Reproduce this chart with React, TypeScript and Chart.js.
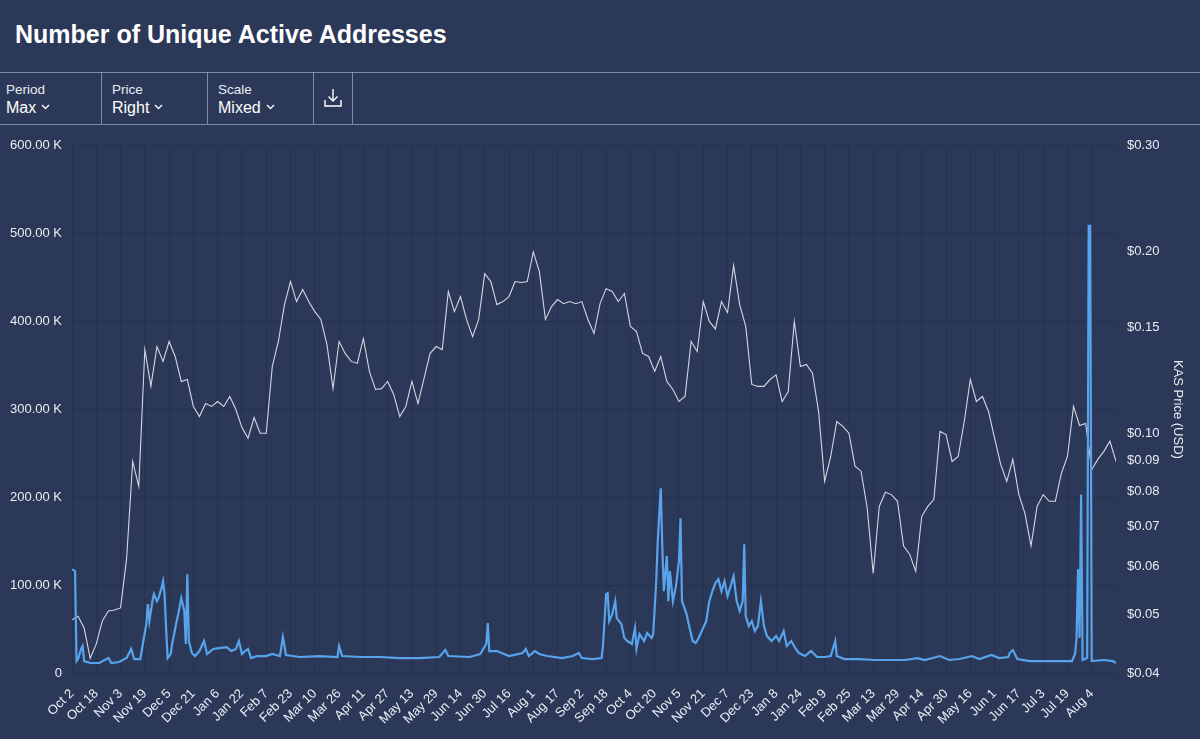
import React, { useEffect, useRef } from 'react';
import { Chart, registerables } from 'chart.js';

Chart.register(...registerables);

// ---- data ----
const xTickLabels = [
  'Oct 2', 'Oct 18', 'Nov 3', 'Nov 19', 'Dec 5', 'Dec 21', 'Jan 6', 'Jan 22', 'Feb 7', 'Feb 23',
  'Mar 10', 'Mar 26', 'Apr 11', 'Apr 27', 'May 13', 'May 29', 'Jun 14', 'Jun 30', 'Jul 16', 'Aug 1',
  'Aug 17', 'Sep 2', 'Sep 18', 'Oct 4', 'Oct 20', 'Nov 5', 'Nov 21', 'Dec 7', 'Dec 23', 'Jan 8',
  'Jan 24', 'Feb 9', 'Feb 25', 'Mar 13', 'Mar 29', 'Apr 14', 'Apr 30', 'May 16', 'Jun 1', 'Jun 17',
  'Jul 3', 'Jul 19', 'Aug 4',
];
const xTickStepDays = 16;
const totalDays = 688;

// KAS price (USD), one value every 4 days starting Oct 2
const priceStepDays = 4;
const priceUsd = [
  0.0490, 0.0497, 0.0475, 0.0423, 0.0447, 0.0488, 0.0507, 0.0509, 0.0513, 0.0620,
  0.0898, 0.0816, 0.1377, 0.1197, 0.1393, 0.1316, 0.1420, 0.1341, 0.1219, 0.1228,
  0.1108, 0.1066, 0.1120, 0.1108, 0.1129, 0.1108, 0.1151, 0.1095, 0.1022, 0.0981,
  0.1062, 0.1000, 0.1000, 0.1291, 0.1420, 0.1635, 0.1786, 0.1654, 0.1732, 0.1654,
  0.1592, 0.1545, 0.1404, 0.1186, 0.1420, 0.1357, 0.1316, 0.1306, 0.1436, 0.1267,
  0.1182, 0.1186, 0.1219, 0.1160, 0.1066, 0.1108, 0.1219, 0.1120, 0.1233, 0.1357,
  0.1393, 0.1377, 0.1719, 0.1592, 0.1686, 0.1545, 0.1447, 0.1545, 0.1841, 0.1786,
  0.1635, 0.1654, 0.1686, 0.1786, 0.1779, 0.1786, 0.2000, 0.1855, 0.1545, 0.1623,
  0.1667, 0.1641, 0.1654, 0.1641, 0.1654, 0.1545, 0.1464, 0.1641, 0.1738, 0.1719,
  0.1654, 0.1706, 0.1504, 0.1475, 0.1357, 0.1341, 0.1267, 0.1341, 0.1219, 0.1182,
  0.1129, 0.1151, 0.1420, 0.1367, 0.1654, 0.1533, 0.1490, 0.1654, 0.1586, 0.1900,
  0.1635, 0.1504, 0.1205, 0.1196, 0.1196, 0.1228, 0.1250, 0.1129, 0.1173, 0.1533,
  0.1291, 0.1301, 0.1258, 0.1087, 0.0832, 0.0915, 0.1046, 0.1027, 0.1000, 0.0882,
  0.0865, 0.0753, 0.0585, 0.0756, 0.0798, 0.0791, 0.0771, 0.0650, 0.0630, 0.0590,
  0.0728, 0.0756, 0.0777, 0.1007, 0.0995, 0.0898, 0.0915, 0.1046, 0.1228, 0.1129,
  0.1151, 0.1087, 0.0981, 0.0888, 0.0832, 0.0905, 0.0791, 0.0736, 0.0650, 0.0756,
  0.0791, 0.0771, 0.0771, 0.0858, 0.0915, 0.1108, 0.1030, 0.1038, 0.0870, 0.0905,
  0.0933, 0.0970, 0.0898,
];

// Unique active addresses: day offset from Oct 2 and count
const addrDays = [
  0, 2, 3, 4, 6, 7, 8, 12, 18, 24, 26, 31, 36, 39, 41, 45, 47, 49, 50, 51,
  53, 54, 56, 57, 59, 60, 61, 62, 63, 65, 66, 69, 70, 72, 74, 75, 76, 77, 79, 81,
  84, 87, 89, 93, 97, 102, 105, 108, 110, 112, 114, 116, 118, 122, 128, 132, 137, 139, 141, 150,
  163, 175, 176, 178, 190, 203, 216, 229, 242, 246, 248, 262, 269, 273, 274, 275, 280, 288, 297, 299,
  301, 305, 308, 313, 323, 330, 334, 336, 343, 349, 350, 352, 353, 354, 356, 358, 359, 362, 364, 366,
  369, 371, 372, 374, 377, 379, 382, 383, 384, 385, 386, 388, 389, 390, 392, 393, 394, 396, 398, 400,
  401, 402, 405, 407, 409, 411, 413, 415, 418, 420, 422, 424, 426, 428, 430, 432, 434, 436, 438, 440,
  442, 443, 444, 446, 448, 450, 452, 454, 456, 458, 461, 464, 466, 469, 471, 474, 477, 479, 483, 487,
  491, 496, 500, 503, 504, 509, 519, 529, 539, 549, 557, 562, 572, 578, 585, 593, 598, 606, 611, 617,
  618, 620, 623, 631, 641, 651, 659, 661, 662, 663, 664, 665, 666, 669, 670, 671, 672, 680, 686, 688,
];
const addrCounts = [
  118000, 115900, 13600, 15900, 27300, 30700, 13600, 11400, 11400, 17000, 11400, 12500, 17000, 27300, 15900, 15900, 36400, 55700, 78400, 59100,
  81800, 89800, 81800, 85200, 96600, 104500, 89800, 51100, 17000, 21600, 33000, 59100, 67000, 85200, 70500, 33000, 112500, 36400, 22700, 19300,
  25000, 36400, 21600, 27300, 28400, 29500, 25000, 27300, 36400, 21600, 25000, 27300, 17000, 19300, 19300, 21600, 19300, 40900, 20500, 18200,
  19300, 18200, 30700, 19300, 18200, 18200, 17000, 17000, 18200, 26100, 19300, 18200, 21600, 33000, 56800, 25000, 25000, 19300, 22700, 27300,
  19300, 25000, 21600, 19300, 17000, 19300, 22700, 17000, 15900, 17000, 33000, 89800, 90900, 59100, 67000, 81800, 62500, 55700, 39800, 36400,
  33000, 51100, 27300, 44300, 36400, 45500, 39800, 44300, 73900, 104500, 150000, 210200, 144300, 93200, 133000, 81800, 115900, 81800, 98900, 127300,
  176100, 81800, 67000, 51100, 36400, 34100, 39800, 47700, 59100, 81800, 93200, 102300, 106800, 93200, 104500, 87500, 98900, 110200, 81800, 70500,
  81800, 146600, 64800, 53400, 59100, 47700, 53400, 81800, 53400, 42000, 36400, 42000, 36400, 47700, 30700, 36400, 27300, 22700, 19300, 25000,
  18200, 18200, 19300, 36400, 19300, 15900, 15900, 14800, 14800, 14800, 17000, 14800, 19300, 14800, 15900, 19300, 15900, 20500, 17000, 18200,
  22700, 26100, 15900, 13600, 13600, 13600, 13600, 21600, 40000, 118000, 40000, 203000, 14800, 17000, 509000, 509000, 13600, 14800, 13600, 11400,
];

const addrTicks = [0, 100000, 200000, 300000, 400000, 500000, 600000];
const priceTicks = [0.04, 0.05, 0.06, 0.07, 0.08, 0.09, 0.1, 0.15, 0.2, 0.3];

// ---- styling ----
const BG = '#2c3858';
const LINE = 'rgba(150,165,205,0.75)';
const TEXT = '#e9ecf3';
const FONT = '"Liberation Sans", Arial, Helvetica, sans-serif';
const GRID = 'rgba(18,26,46,0.22)';

const Chevron = () => (
  <svg width="9" height="6" style={{ marginLeft: 5, verticalAlign: 3 }}>
    <polyline points="1,1 4.5,4.5 8,1" fill="none" stroke="#fff" strokeWidth="1.3" />
  </svg>
);

function ToolItem({ x, label, value }: { x: number; label: string; value: string }) {
  return (
    <>
      <div style={{ position: 'absolute', left: x, top: 82.6, fontSize: 13.5, lineHeight: '13.5px', color: TEXT, whiteSpace: 'nowrap' }}>{label}</div>
      <div style={{ position: 'absolute', left: x, top: 100.3, fontSize: 16, lineHeight: '16px', color: '#fff', whiteSpace: 'nowrap' }}>
        {value}
        <Chevron />
      </div>
    </>
  );
}

export default function App() {
  const canvasRef = useRef<HTMLCanvasElement>(null);

  useEffect(() => {
    const priceData = priceUsd.map((v, i) => ({ x: i * priceStepDays, y: v }));
    const addrData = addrDays.map((d, i) => ({ x: d, y: addrCounts[i] }));
    const tickFont = { family: FONT, size: 13 };

    const chart = new Chart(canvasRef.current as HTMLCanvasElement, {
      type: 'line',
      data: {
        datasets: [
          {
            label: 'Active Addresses',
            data: addrData,
            yAxisID: 'y',
            borderColor: '#58a4ec',
            borderWidth: 2.2,
            pointRadius: 0,
            tension: 0,
          },
          {
            label: 'KAS Price',
            data: priceData,
            yAxisID: 'y1',
            borderColor: 'rgba(226,229,238,0.92)',
            borderWidth: 1.1,
            pointRadius: 0,
            tension: 0,
          },
        ],
      },
      options: {
        responsive: false,
        animation: false,
        devicePixelRatio: 1,
        layout: { padding: { top: 0, left: 0, right: 0, bottom: 0 } },
        plugins: { legend: { display: false }, tooltip: { enabled: false } },
        scales: {
          x: {
            type: 'linear',
            min: 0,
            max: totalDays,
            afterBuildTicks: (scale: any) => {
              scale.ticks = xTickLabels.map((_, i) => ({ value: i * xTickStepDays }));
            },
            afterFit: (scale: any) => {
              scale.height = 66;
            },
            ticks: {
              autoSkip: false,
              maxRotation: 45,
              minRotation: 45,
              padding: 13,
              color: TEXT,
              font: tickFont,
              callback: (_v: any, i: number) => xTickLabels[i],
            },
            grid: { color: GRID, drawTicks: false },
            border: { display: false },
          },
          y: {
            type: 'linear',
            position: 'left',
            min: 0,
            max: 600000,
            afterBuildTicks: (scale: any) => {
              scale.ticks = addrTicks.map((v) => ({ value: v }));
            },
            afterFit: (scale: any) => {
              scale.width = 72;
            },
            ticks: {
              padding: 10,
              color: TEXT,
              font: tickFont,
              callback: (v: any) => (Number(v) === 0 ? '0' : (Number(v) / 1000).toFixed(2) + ' K'),
            },
            grid: { color: GRID, drawTicks: false },
            border: { display: false },
          },
          y1: {
            type: 'logarithmic',
            position: 'right',
            min: 0.04,
            max: 0.3,
            afterBuildTicks: (scale: any) => {
              scale.ticks = priceTicks.map((v) => ({ value: v }));
            },
            afterFit: (scale: any) => {
              scale.width = 84;
            },
            ticks: {
              autoSkip: false,
              padding: 11,
              color: TEXT,
              font: tickFont,
              callback: (v: any) => '$' + Number(v).toFixed(2),
            },
            title: {
              display: true,
              text: 'KAS Price (USD)',
              color: TEXT,
              font: { family: FONT, size: 13 },
              padding: { top: 15, bottom: 0 },
            },
            grid: { drawOnChartArea: false, drawTicks: false },
            border: { display: false },
          },
        },
      },
    } as any);

    return () => chart.destroy();
  }, []);

  return (
    <div style={{ position: 'fixed', left: 0, top: 0, width: 1200, height: 739, background: BG, fontFamily: FONT, overflow: 'hidden' }}>
      <div style={{ position: 'absolute', left: 15, top: 21.8, fontSize: 25, lineHeight: '25px', fontWeight: 700, color: '#fff', whiteSpace: 'nowrap' }}>
        Number of Unique Active Addresses
      </div>
      <div style={{ position: 'absolute', left: 0, top: 72, width: 1200, height: 1, background: LINE }} />
      <div style={{ position: 'absolute', left: 0, top: 123.5, width: 1200, height: 1, background: LINE }} />
      {[101, 207, 313, 352].map((x) => (
        <div key={x} style={{ position: 'absolute', left: x, top: 72, width: 1, height: 52, background: LINE }} />
      ))}
      <ToolItem x={6} label="Period" value="Max" />
      <ToolItem x={112} label="Price" value="Right" />
      <ToolItem x={218} label="Scale" value="Mixed" />
      <svg style={{ position: 'absolute', left: 322, top: 86 }} width="22" height="24">
        <line x1="11" y1="3" x2="11" y2="15" stroke="#fff" strokeWidth="1.4" />
        <polyline points="6.5,10.5 11,15 15.5,10.5" fill="none" stroke="#fff" strokeWidth="1.4" />
        <polyline points="3,14 3,20 19,20 19,14" fill="none" stroke="#fff" strokeWidth="1.4" />
      </svg>
      <canvas
        ref={canvasRef}
        width={1200}
        height={612}
        style={{ position: 'absolute', left: 0, top: 127, width: 1200, height: 612 }}
      />
    </div>
  );
}
